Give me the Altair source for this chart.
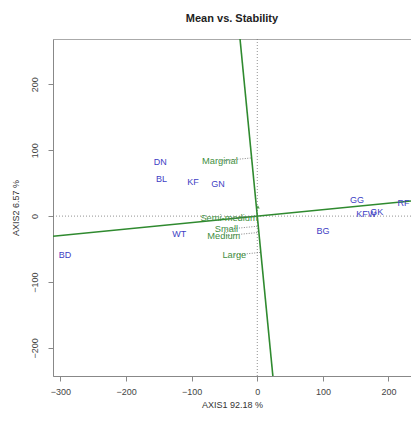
import altair as alt
import pandas as pd
import numpy as np

chart_title = "Mean vs. Stability"
x_title = "AXIS1 92.18 %"
y_title = "AXIS2 6.57 %"

gen_names = ["DN", "BL", "KF", "GN", "WT", "BD", "GG", "KFW", "GK", "RF", "BG"]
gen_x = [-148, -146, -98, -60, -119, -293, 152, 166, 182, 223, 100]
gen_y = [81.5, 55.7, 51.6, 48.1, -27.8, -59.2, 24.3, 2.6, 5.6, 19.3, -22.3]

env_names = ["Marginal", "Semi-medium", "Small", "Medium", "Large"]
env_x = [-57, -43, -47, -51, -35]
env_y = [83.5, -3.5, -20, -30, -59]

avg_env_x = [1]
avg_env_y = [14]

atc_slope = 0.098
x_domain = [-311.4, 234.3]
y_domain = [-242.5, 268.6]
x_ticks = [-300, -200, -100, 0, 100, 200]
y_ticks = [-200, -100, 0, 100, 200]

GREEN = "#2f8a2f"
GREEN_TXT = "#3f8f3f"
BLUE = "#4040c4"
FONT = "Liberation Sans"

gen_df = pd.DataFrame({"name": gen_names, "x": gen_x, "y": gen_y})
env_df = pd.DataFrame({"name": env_names, "x": env_x, "y": env_y})
s = atc_slope
t = (-s * env_df["x"] + env_df["y"]) / (1 + s * s)
env_df["px"] = -s * t
env_df["py"] = t

lines_df = pd.DataFrame({
    "x": [x_domain[0], -s * y_domain[1]],
    "x2": [x_domain[1], -s * y_domain[0]],
    "y": [s * x_domain[0], y_domain[1]],
    "y2": [s * x_domain[1], y_domain[0]],
})

xs = alt.Scale(domain=x_domain, nice=False, zero=False)
ys = alt.Scale(domain=y_domain, nice=False, zero=False)

X = alt.X("x:Q", scale=xs, title=x_title,
          axis=alt.Axis(values=x_ticks, tickSize=5, labelPadding=6, titlePadding=4))
Y = alt.Y("y:Q", scale=ys, title=y_title,
          axis=alt.Axis(values=y_ticks, tickSize=5, labelAngle=270, labelAlign="center",
                        labelBaseline="bottom", labelPadding=9, titlePadding=10))

zero_v = alt.Chart(pd.DataFrame({"x": [0]})).mark_rule(
    color="#777", strokeDash=[1, 2], strokeWidth=0.8).encode(x=alt.X("x:Q", scale=xs))
zero_h = alt.Chart(pd.DataFrame({"y": [0]})).mark_rule(
    color="#777", strokeDash=[1, 2], strokeWidth=0.8).encode(y=alt.Y("y:Q", scale=ys))

atc = alt.Chart(lines_df).mark_rule(color=GREEN, strokeWidth=1.6, clip=True).encode(
    x=X, x2="x2:Q", y=Y, y2="y2:Q")

proj = alt.Chart(env_df).mark_rule(color="#666", strokeDash=[1, 1.5], strokeWidth=0.8).encode(
    x=alt.X("x:Q", scale=xs), x2="px:Q", y=alt.Y("y:Q", scale=ys), y2="py:Q")

env_txt = alt.Chart(env_df).mark_text(font=FONT, fontSize=9.3, color=GREEN_TXT).encode(
    x=alt.X("x:Q", scale=xs), y=alt.Y("y:Q", scale=ys), text="name:N")

gen_txt = alt.Chart(gen_df).mark_text(font=FONT, fontSize=9, color=BLUE).encode(
    x=alt.X("x:Q", scale=xs), y=alt.Y("y:Q", scale=ys), text="name:N")

avg = alt.Chart(pd.DataFrame({"x": avg_env_x, "y": avg_env_y})).mark_point(
    shape="triangle-up", size=14, filled=True, color=GREEN, opacity=0.8).encode(
    x=alt.X("x:Q", scale=xs), y=alt.Y("y:Q", scale=ys))

chart = alt.layer(zero_v, zero_h, atc, proj, env_txt, gen_txt, avg).properties(
    width=358, height=337,
    title=alt.TitleParams(chart_title, fontSize=11, fontWeight="bold", font=FONT,
                          color="#222", anchor="middle", frame="group", offset=15),
    autosize=alt.AutoSizeParams(type="none"),
    padding={"left": 45, "top": 31, "right": 0, "bottom": 36},
).configure_view(stroke="#aaa", strokeWidth=1).configure_axis(
    grid=False, domainColor="#888", tickColor="#888", labelColor="#444",
    titleColor="#333", labelFont=FONT, titleFont=FONT, labelFontSize=9,
    titleFontSize=9, titleFontWeight="normal")

chart.save("out.html", embed_options={"renderer": "svg", "actions": False})
